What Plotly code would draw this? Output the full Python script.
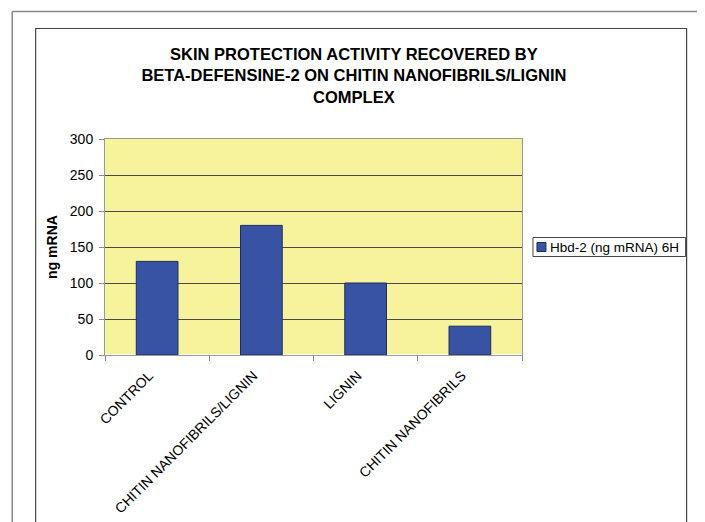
import plotly.graph_objects as go

categories = ["CONTROL", "CHITIN NANOFIBRILS/LIGNIN", "LIGNIN", "CHITIN NANOFIBRILS"]
values = [130, 180, 100, 40]
series_name = "Hbd-2 (ng mRNA) 6H"
title_text = "SKIN PROTECTION ACTIVITY RECOVERED BY<br>BETA-DEFENSINE-2 ON CHITIN NANOFIBRILS/LIGNIN<br>COMPLEX"

OFF = 8  # page body margin
W, H = 705 - OFF, 522 - OFF
# plot area in screen pixels
SL, SR, ST, SB = 104.5, 522.5, 139, 355
L, R, T, B = SL - OFF, SR - OFF, ST - OFF, SB - OFF

def px(x):
    return (x - OFF - L) / (R - L)

def py(y):
    return (B - (y - OFF)) / (B - T)

BAR_COLOR = "#3953A4"
BAR_EDGE = "#1E2B5E"

fig = go.Figure()
fig.add_trace(go.Bar(
    x=categories, y=values, name=series_name,
    marker=dict(color=BAR_COLOR, line=dict(color=BAR_EDGE, width=1)),
    width=0.4, showlegend=False,
))

shapes = [
    # outer frame
    dict(type="line", xref="paper", yref="paper", x0=px(11.5), x1=px(720), y0=py(11.5), y1=py(11.5),
         line=dict(color="#888888", width=1.5)),
    dict(type="line", xref="paper", yref="paper", x0=px(11.5), x1=px(11.5), y0=py(11.5), y1=py(540),
         line=dict(color="#888888", width=1.5)),
    # inner frame
    dict(type="rect", xref="paper", yref="paper", x0=px(35), x1=px(687.5), y0=py(28.5), y1=py(560),
         line=dict(color="#444444", width=1.2)),
    # legend box
    dict(type="rect", xref="paper", yref="paper", x0=px(533.5), x1=px(686.5), y0=py(237.5), y1=py(256.5),
         line=dict(color="#444444", width=1), fillcolor="white"),
    # legend key
    dict(type="rect", xref="paper", yref="paper", x0=px(537.5), x1=px(546.5), y0=py(242.5), y1=py(251.5),
         line=dict(color=BAR_EDGE, width=1), fillcolor=BAR_COLOR),
]

annotations = [
    dict(text=series_name, xref="paper", yref="paper", x=px(549), y=py(247),
         xanchor="left", yanchor="middle", showarrow=False, font=dict(size=13.5)),
]

fig.update_layout(
    width=W, height=H,
    margin=dict(l=L, r=W - R, t=T, b=H - B, autoexpand=False),
    paper_bgcolor="white",
    plot_bgcolor="#F7F39C",
    font=dict(family="Liberation Sans, Arial", size=14, color="black"),
    title=dict(text="<b>" + title_text + "</b>", x=px(354), xref="paper", xanchor="center",
               y=1 - (60 - OFF) / H, yanchor="top", font=dict(size=16.5)),
    shapes=shapes,
    annotations=annotations,
    showlegend=False,
    bargap=0.6,
)
fig.update_xaxes(
    tickangle=-45, tickson="boundaries", ticks="outside", ticklen=5, tickcolor="#888888",
    showline=True, linecolor="#999999", linewidth=1, mirror=True, automargin=False,
    tickfont=dict(size=14), ticklabelshift=-8, ticklabelstandoff=6,
)
fig.update_yaxes(
    range=[0, 300], dtick=50, ticks="outside", ticklen=5, tickcolor="#888888",
    showgrid=True, gridcolor="#4a4a4a", gridwidth=1,
    showline=True, linecolor="#999999", linewidth=1, mirror=True, automargin=False,
    title=dict(text="<b>ng mRNA</b>", font=dict(size=14), standoff=8),
    tickfont=dict(size=14), ticklabelstandoff=3,
)

fig.write_html("out.html")
